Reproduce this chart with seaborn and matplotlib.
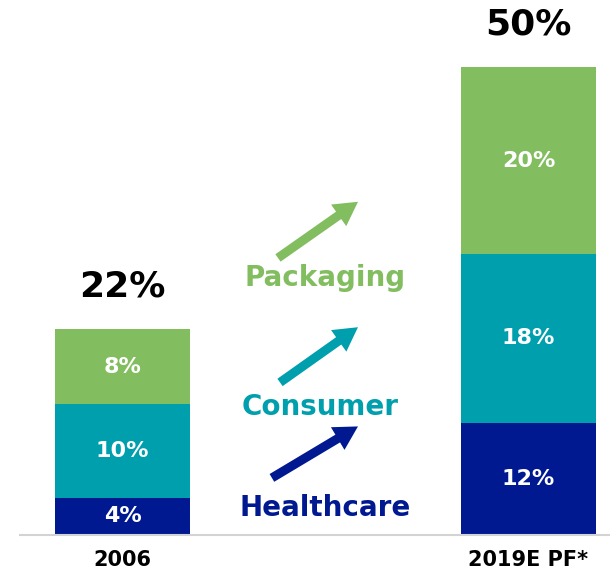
import numpy as np
import pandas as pd
import seaborn as sns
import matplotlib
matplotlib.use("Agg")
import matplotlib.pyplot as plt

# data
years = ["2006", "2019E PF*"]
healthcare = [4, 12]
consumer = [10, 18]
packaging = [8, 20]
segments = ["Healthcare", "Consumer", "Packaging"]

colors = {"Healthcare": "#001991", "Consumer": "#009FAD", "Packaging": "#82BD5F"}

sns.set_theme(style="white")
plt.rcParams["font.family"] = ["DejaVu Sans"]
plt.rcParams["font.weight"] = "bold"

spacer = " "
order = [years[0], spacer, years[1]]

df = pd.DataFrame({"year": years, "Healthcare": healthcare,
                   "Consumer": consumer, "Packaging": packaging})
df["cum_h"] = df["Healthcare"]
df["cum_c"] = df["Healthcare"] + df["Consumer"]
df["total"] = df["cum_c"] + df["Packaging"]

fig = plt.figure(figsize=(6.1, 5.72), dpi=100)
ax = fig.add_axes([20 / 610, 37 / 572, 590 / 610, 535 / 572])

bar_w = 0.665
# stacked by overlaying cumulative heights
sns.barplot(data=df, x="year", y="total", order=order, color=colors["Packaging"],
            width=bar_w, saturation=1, linewidth=0, ax=ax)
sns.barplot(data=df, x="year", y="cum_c", order=order, color=colors["Consumer"],
            width=bar_w, saturation=1, linewidth=0, ax=ax)
sns.barplot(data=df, x="year", y="cum_h", order=order, color=colors["Healthcare"],
            width=bar_w, saturation=1, linewidth=0, ax=ax)

ax.set_xlim(-(122.5 - 20) / 203, 2 + 81.5 / 203)
ax.set_ylim(0, 535 / 9.36)

# segment labels
xpos = [0, 2]
for i, x in enumerate(xpos):
    h, c, p = healthcare[i], consumer[i], packaging[i]
    ax.text(x, h / 2, f"{h}%", color="white", ha="center", va="center", fontsize=16, fontweight="bold")
    ax.text(x, h + c / 2, f"{c}%", color="white", ha="center", va="center", fontsize=16, fontweight="bold")
    ax.text(x, h + c + p / 2, f"{p}%", color="white", ha="center", va="center", fontsize=16, fontweight="bold")
    ax.text(x, h + c + p + 4.5, f"{h + c + p}%", color="black", ha="center", va="center",
            fontsize=26, fontweight="bold")

# growth arrows with segment names
arrows = {
    "Packaging": ((0.766, 29.6), (1.160, 35.6), (0.998, 27.5)),
    "Consumer": ((0.776, 16.3), (1.160, 22.2), (0.973, 13.7)),
    "Healthcare": ((0.736, 6.1), (1.160, 11.6), (0.998, 2.9)),
}
for name, (tail, tip, lab) in arrows.items():
    ax.annotate("", xy=tip, xytext=tail,
                arrowprops=dict(width=6.5, headwidth=19, headlength=17,
                                color=colors[name], lw=0))
    ax.text(lab[0], lab[1], name, color=colors[name], ha="center", va="center",
            fontsize=20, fontweight="bold")

# axes styling
for s in ["top", "right", "left"]:
    ax.spines[s].set_visible(False)
ax.spines["bottom"].set_color("#d3d3d3")
ax.spines["bottom"].set_linewidth(1.5)
ax.set_yticks([])
ax.set_xticks([0, 1, 2])
ax.set_xticklabels([years[0], "", years[1]], fontsize=15, fontweight="bold", color="black")
ax.tick_params(axis="x", length=0, pad=11)
ax.set_xlabel("")
ax.set_ylabel("")
ax.set_facecolor("white")

fig.savefig("out.png", dpi=100, facecolor="white")
